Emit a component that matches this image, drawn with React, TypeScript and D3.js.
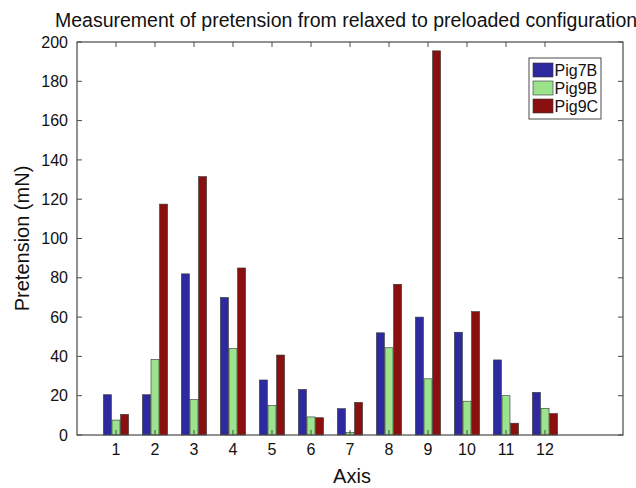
import React from "react";
import * as d3 from "d3";

const categories = ["1", "2", "3", "4", "5", "6", "7", "8", "9", "10", "11", "12"];
const seriesNames = ["Pig7B", "Pig9B", "Pig9C"];
const pig7B = [20.5, 20.5, 82, 70, 28, 23.2, 13.4, 52, 60, 52.3, 38.2, 21.7];
const pig9B = [7.6, 38.5, 18, 44, 15, 9.2, 1.2, 44.4, 28.6, 17.2, 20, 13.6];
const pig9C = [10.5, 117.5, 131.5, 85, 40.7, 8.8, 16.6, 76.7, 195.5, 62.8, 6, 10.9];
const yTicks = [0, 20, 40, 60, 80, 100, 120, 140, 160, 180, 200];
const colors = ["#2d2a9f", "#9be38d", "#8a1010"];

export default function App() {
  const W = 636, H = 488;
  const m = { left: 77, right: 623, top: 42, bottom: 435 };
  const x = d3.scaleLinear().domain([0, 14]).range([m.left, m.right]);
  const y = d3.scaleLinear().domain([0, 200]).range([m.bottom, m.top]);
  const series = [pig7B, pig9B, pig9C];
  const offsets = [-0.22, 0, 0.22];
  const bw = 0.205;
  const font = "'Liberation Sans', Arial, Helvetica, sans-serif";
  const axisColor = "#4a4a4a";
  const tickLen = 5;

  return (
    <svg width={W} height={H} style={{ position: "absolute", left: 0, top: 0, background: "#fff" }} fontFamily={font}>
      <rect x={0} y={0} width={W} height={H} fill="#fff" />
      <text x={55} y={27} textAnchor="start" fontSize={19.5} fill="#111">
        Measurement of pretension from relaxed to preloaded configuration
      </text>
      {series.map((vals, si) =>
        vals.map((v, i) => {
          const cx = i + 1 + offsets[si];
          const x0 = x(cx - bw / 2);
          const x1 = x(cx + bw / 2);
          return (
            <rect
              key={si + "-" + i}
              x={x0}
              y={y(v)}
              width={x1 - x0}
              height={y(0) - y(v)}
              fill={colors[si]}
              stroke="#333"
              strokeWidth={0.6}
            />
          );
        })
      )}
      <rect x={m.left} y={m.top} width={m.right - m.left} height={m.bottom - m.top} fill="none" stroke={axisColor} strokeWidth={1.2} />
      {yTicks.map((t) => (
        <g key={"y" + t}>
          <line x1={m.left} x2={m.left + tickLen} y1={y(t)} y2={y(t)} stroke={axisColor} />
          <line x1={m.right} x2={m.right - tickLen} y1={y(t)} y2={y(t)} stroke={axisColor} />
          <text x={68} y={y(t)} dy="0.35em" textAnchor="end" fontSize={16} fill="#111">
            {t}
          </text>
        </g>
      ))}
      {categories.map((c, i) => (
        <g key={"x" + c}>
          <line x1={x(i + 1)} x2={x(i + 1)} y1={m.bottom} y2={m.bottom - tickLen} stroke={axisColor} />
          <line x1={x(i + 1)} x2={x(i + 1)} y1={m.top} y2={m.top + tickLen} stroke={axisColor} />
          <text x={x(i + 1)} y={455} textAnchor="middle" fontSize={16} fill="#111">
            {c}
          </text>
        </g>
      ))}
      <text x={352} y={483} textAnchor="middle" fontSize={20} fill="#111">
        Axis
      </text>
      <text transform={`translate(29, ${(m.top + m.bottom) / 2}) rotate(-90)`} textAnchor="middle" fontSize={20} fill="#111">
        Pretension (mN)
      </text>
      <rect x={529} y={58} width={72} height={61} fill="#fff" stroke={axisColor} strokeWidth={1} />
      {seriesNames.map((s, i) => (
        <g key={s}>
          <rect x={533} y={63 + i * 18} width={20} height={14} fill={colors[i]} stroke="#333" strokeWidth={0.6} />
          <text x={554.5} y={70 + i * 18} dy="0.35em" fontSize={16} fill="#111">
            {s}
          </text>
        </g>
      ))}
    </svg>
  );
}
